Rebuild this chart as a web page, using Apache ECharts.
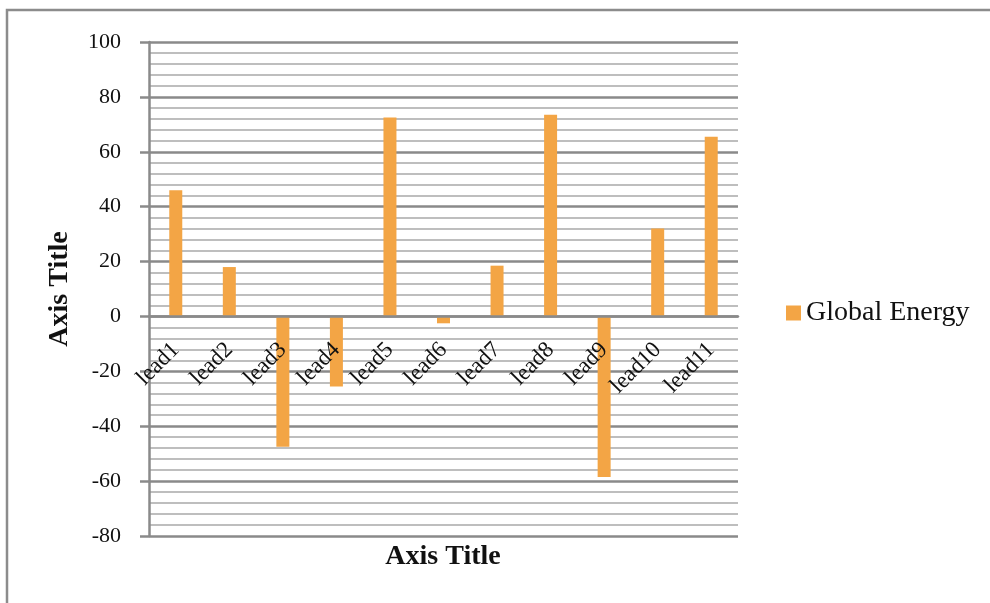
<!DOCTYPE html>
<html>
<head>
<meta charset="utf-8">
<script src="https://cdn.jsdelivr.net/npm/echarts@6/dist/echarts.min.js"></script>
<style>
  html, body { margin: 0; padding: 0; background: #ffffff; }
  #chart { width: 990px; height: 603px; }
</style>
</head>
<body>
<div id="chart"></div>
<script>
// Categories and values for the Global Energy series
const categories = ['lead1', 'lead2', 'lead3', 'lead4', 'lead5', 'lead6', 'lead7', 'lead8', 'lead9', 'lead10', 'lead11'];
const globalEnergy = [46, 18, -47.5, -25.5, 72.5, -2.5, 18.5, 73.5, -58.5, 32, 65.5];
const seriesName = 'Global Energy';
const yTitle = 'Axis Title';
const xTitle = 'Axis Title';
const yMin = -80;
const yMax = 100;
const yStep = 20;

const FONT = '"Liberation Serif", "DejaVu Serif", serif';
const GRID = { left: 149, right: 252, top: 42, bottom: 67 };
const CH = 603;
// the category axis sits on the zero line: shift it up from the grid bottom
const plotH = CH - GRID.top - GRID.bottom;
const zeroShift = -plotH * (0 - yMin) / (yMax - yMin);

const chart = echarts.init(document.getElementById('chart'), null, { renderer: 'canvas' });

chart.setOption({
  animation: false,
  backgroundColor: '#ffffff',
  grid: Object.assign({ containLabel: false, outerBoundsMode: 'none' }, GRID),
  legend: {
    show: true,
    data: [seriesName],
    left: 781,
    top: 294,
    icon: 'rect',
    itemWidth: 15,
    itemHeight: 15,
    itemGap: 10,
    textStyle: { fontFamily: FONT, fontSize: 28, color: '#111' }
  },
  xAxis: {
    type: 'category',
    data: categories,
    position: 'bottom',
    offset: zeroShift,
    z: 5,
    axisLine: { show: true, onZero: false, lineStyle: { color: '#8a8a8a', width: 2.5 } },
    axisTick: { show: false },
    axisLabel: {
      rotate: 45,
      margin: 30,
      interval: 0,
      hideOverlap: false,
      fontFamily: FONT,
      fontSize: 23,
      color: '#111'
    },
    splitLine: { show: false }
  },
  yAxis: {
    type: 'value',
    min: yMin,
    max: yMax,
    interval: yStep,
    name: yTitle,
    nameLocation: 'middle',
    nameRotate: 90,
    nameGap: 75,
    nameTextStyle: { fontFamily: FONT, fontSize: 28, fontWeight: 'bold', color: '#111' },
    axisLine: { show: true, lineStyle: { color: '#8a8a8a', width: 2.5 } },
    axisTick: { show: true, inside: false, length: 9, lineStyle: { color: '#8a8a8a', width: 2.5 } },
    axisLabel: { margin: 28, fontFamily: FONT, fontSize: 22, color: '#111' },
    splitLine: { show: true, lineStyle: { color: '#8a8a8a', width: 2.5 } },
    minorTick: { show: false, splitNumber: 5 },
    minorSplitLine: { show: true, lineStyle: { color: '#bebebe', width: 2.2 } }
  },
  series: [{
    name: seriesName,
    type: 'bar',
    data: globalEnergy,
    barWidth: 13,
    itemStyle: { color: '#f3a545' }
  }],
  graphic: [
    {
      type: 'rect',
      shape: { x: 7, y: 10, width: 1010, height: 640 },
      style: { fill: 'none', stroke: '#8c8c8c', lineWidth: 2.5 },
      silent: true
    },
    {
      type: 'text',
      x: 443,
      y: 557,
      style: {
        text: xTitle,
        fontFamily: FONT,
        fontSize: 28,
        fontWeight: 'bold',
        fill: '#111',
        textAlign: 'center',
        textVerticalAlign: 'middle'
      }
    }
  ]
});
</script>
</body>
</html>
